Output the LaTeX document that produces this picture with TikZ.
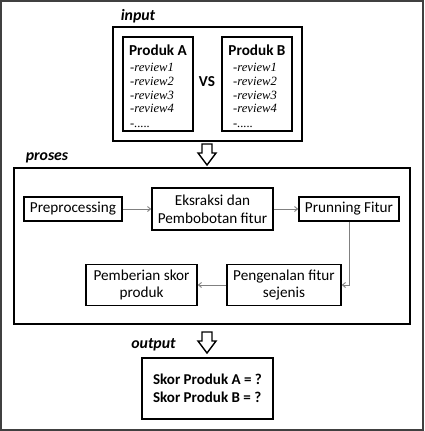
\documentclass[tikz,border=0pt]{standalone}
\usepackage{fontspec}
\usetikzlibrary{arrows.meta}
\setmainfont{Carlito}
\newfontfamily\revfont{Liberation Serif}
\begin{document}
\begin{tikzpicture}[x=1pt,y=-1pt,
  box/.style={draw=black,line width=1.6pt,inner sep=0pt,align=center,font=\fontsize{15.2}{17.8}\selectfont},
  lbl/.style={inner sep=0pt,font=\fontsize{15.8}{17}\selectfont\bfseries\itshape},
  rev/.style={inner sep=0pt,anchor=base west,font=\fontsize{12.6}{13}\selectfont\revfont\itshape},
  conn/.style={draw=black!50,line width=0.9pt,->,>={Straight Barb[length=3pt,width=5pt]}},
  hollow/.style={draw=black,line width=1.4pt,fill=white,line join=miter}]
\useasboundingbox (0,0) rectangle (424,431);
\fill[white] (0,0) rectangle (424,431);
\draw[black!75,line width=1.6pt] (1,1) rectangle (423,430);

% input
\node[lbl] (inlbl) at (138,16) {input};
\node[box,minimum width=189pt,minimum height=114pt] (inbox) at (207.5,84) {};
\node[box,minimum width=70pt,minimum height=94pt] (pa) at (158,84) {};
\node[box,minimum width=70pt,minimum height=94pt] (pb) at (257,84) {};
\node[inner sep=0pt,font=\fontsize{15.2}{17}\selectfont\bfseries] (pat) at (158,50) {Produk A};
\node[inner sep=0pt,font=\fontsize{15.2}{17}\selectfont\bfseries] (pbt) at (257,50) {Produk B};
\node[inner sep=0pt,font=\fontsize{15.2}{17}\selectfont\bfseries] (vs) at (207,82) {VS};
\node[rev] (a1) at (130,71) {-review1};
\node[rev] (a2) at (130,85) {-review2};
\node[rev] (a3) at (130,99) {-review3};
\node[rev] (a4) at (130,112) {-review4};
\node[rev] (a5) at (130,127) {-.....};
\node[rev] (b1) at (233,71) {-review1};
\node[rev] (b2) at (233,85) {-review2};
\node[rev] (b3) at (233,99) {-review3};
\node[rev] (b4) at (233,112) {-review4};
\node[rev] (b5) at (233,127) {-.....};

% hollow arrow 1
\coordinate (h1) at (207,144);
\draw[hollow] ([xshift=-5pt]h1) -- ([xshift=5pt]h1) -- ([xshift=5pt,yshift=-9pt]h1) -- ([xshift=9pt,yshift=-9pt]h1)
  -- ([yshift=-21pt]h1) -- ([xshift=-9pt,yshift=-9pt]h1) -- ([xshift=-5pt,yshift=-9pt]h1) -- cycle;

% proses
\node[lbl] (prlbl) at (47,158) {proses};
\node[box,minimum width=396pt,minimum height=156pt] (prbox) at (212,246) {};
\node[box,minimum width=98pt,minimum height=24pt] (pre) at (73,209) {Preprocessing};
\node[box,minimum width=121pt,minimum height=42pt] (eks) at (212.5,209) {Eksraksi dan\\Pembobotan fitur};
\node[box,minimum width=100pt,minimum height=24pt] (prun) at (349,209) {Prunning Fitur};
\node[box,minimum width=114pt,minimum height=41pt] (peng) at (284,285) {Pengenalan fitur\\sejenis};
\node[box,minimum width=111pt,minimum height=41pt] (pemb) at (141.5,285) {Pemberian skor\\produk};
\draw[conn] (pre) -- (eks);
\draw[conn] (eks) -- (prun);
\draw[conn] (prun.south) |- (peng.east);
\draw[conn] (peng) -- (pemb);

% hollow arrow 2
\coordinate (h2) at (207,332);
\draw[hollow] ([xshift=-5pt]h2) -- ([xshift=5pt]h2) -- ([xshift=5pt,yshift=-9pt]h2) -- ([xshift=9pt,yshift=-9pt]h2)
  -- ([yshift=-21pt]h2) -- ([xshift=-9pt,yshift=-9pt]h2) -- ([xshift=-5pt,yshift=-9pt]h2) -- cycle;

% output
\node[lbl] (outlbl) at (153.5,345) {output};
\node[box,minimum width=131pt,minimum height=61pt,font=\fontsize{15}{18}\selectfont\bfseries,align=left] (out) at (207.5,388.5) {Skor Produk A = ?\\Skor Produk B = ?};
\end{tikzpicture}
\end{document}
